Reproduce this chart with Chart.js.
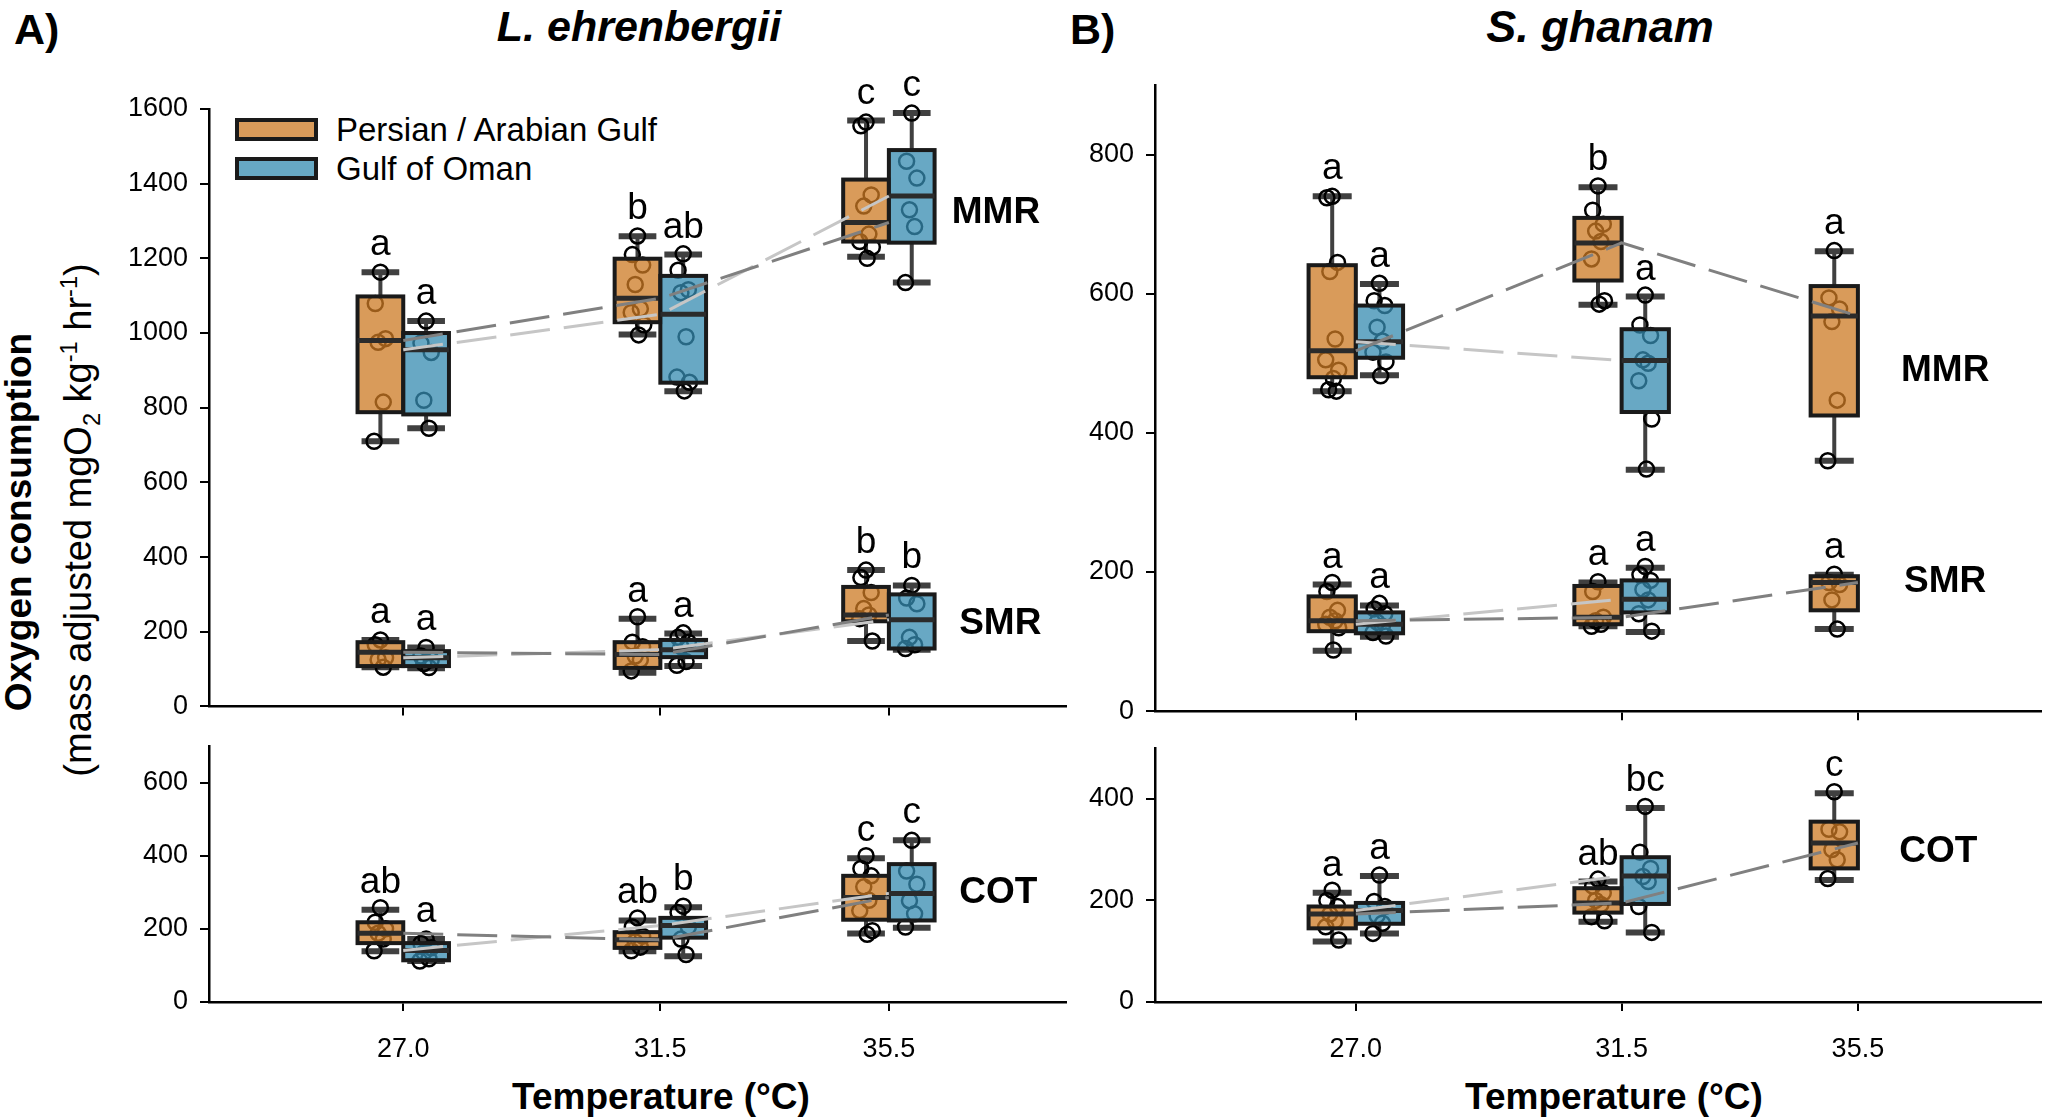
<!DOCTYPE html>
<html>
<head>
<meta charset="utf-8">
<script src="https://cdn.jsdelivr.net/npm/chart.js@4.4.1/dist/chart.umd.min.js"></script>
<style>
  body { margin: 0; background: #fff; width: 2051px; height: 1119px; position: relative; overflow: hidden;
         font-family: "Liberation Sans", Arial, sans-serif; color: #000; }
  .panel { position: absolute; }
  .txt { position: absolute; white-space: nowrap; line-height: 1; }
  .c { transform: translate(-50%, -50%); }
  .rot { transform: translate(-50%, -50%) rotate(-90deg); }
  .sw { position: absolute; width: 83px; height: 23px; border: 4px solid #1a1a1a; box-sizing: border-box; }
  sub, sup { font-size: 0.62em; line-height: 0; }
</style>
</head>
<body>

<div class="txt" style="left:14px;top:8px;font-weight:bold;font-size:43px;">A)</div>
<div class="txt" style="left:1070px;top:8px;font-weight:bold;font-size:43px;">B)</div>
<div class="txt c" style="left:639px;top:26px;font-weight:bold;font-style:italic;font-size:43px;">L. ehrenbergii</div>
<div class="txt c" style="left:1600px;top:26px;font-weight:bold;font-style:italic;font-size:45px;">S. ghanam</div>

<div class="sw" style="left:235px;top:118px;background:#d99b5a;"></div>
<div class="txt" style="left:336px;top:113px;font-size:33px;">Persian / Arabian Gulf</div>
<div class="sw" style="left:235px;top:157px;background:#67a9c4;"></div>
<div class="txt" style="left:336px;top:152px;font-size:33px;">Gulf of Oman</div>

<div class="txt rot" style="left:18px;top:522px;font-weight:bold;font-size:37px;">Oxygen consumption</div>
<div class="txt rot" style="left:78px;top:520px;font-size:38px;">(mass adjusted mgO<sub>2</sub> kg<sup>-1</sup> hr<sup>-1</sup>)</div>

<div class="txt c" style="left:661px;top:1096px;font-weight:bold;font-size:37px;">Temperature (°C)</div>
<div class="txt c" style="left:1614px;top:1096px;font-weight:bold;font-size:37px;">Temperature (°C)</div>

<div class="panel" id="pAtop"><canvas id="cAtop"></canvas></div>
<div class="panel" id="pAbot"><canvas id="cAbot"></canvas></div>
<div class="panel" id="pBtop"><canvas id="cBtop"></canvas></div>
<div class="panel" id="pBbot"><canvas id="cBbot"></canvas></div>

<script>
// Data
const TEMPS = [27.0, 31.5, 35.5];
const X_MIN = 23.6, X_MAX = 38.6;

const A_TOP_TICKS = [0, 200, 400, 600, 800, 1000, 1200, 1400, 1600];
const A_BOT_TICKS = [0, 200, 400, 600];
const B_TOP_TICKS = [0, 200, 400, 600, 800];
const B_BOT_TICKS = [0, 200, 400];

// box stats per temperature: [lower whisker, Q1, median, Q3, upper whisker]
// PG = Persian / Arabian Gulf, GO = Gulf of Oman

// L. ehrenbergii - MMR
const A_MMR_PG = [[710, 788, 980, 1098, 1163], [996, 1029, 1093, 1199, 1259], [1204, 1245, 1296, 1411, 1569]];
const A_MMR_PG_PTS = [[1163, 1079, 985, 975, 815, 710], [1260, 1210, 1182, 1130, 1065, 1055, 1022, 995], [1565, 1555, 1370, 1340, 1265, 1245, 1230, 1200]];
const A_MMR_PG_LET = ['a', 'b', 'c'];
const A_MMR_GO = [[745, 782, 955, 1000, 1032], [844, 867, 1050, 1153, 1210], [1135, 1242, 1367, 1490, 1589]];
const A_MMR_GO_PTS = [[1032, 973, 948, 820, 745], [1212, 1168, 1116, 1108, 990, 882, 868, 845], [1589, 1460, 1415, 1330, 1285, 1135]];
const A_MMR_GO_LET = ['a', 'ab', 'c'];

// L. ehrenbergii - SMR
const A_SMR_PG = [[105, 108, 145, 172, 178], [90, 103, 139, 172, 235], [175, 228, 245, 320, 365]];
const A_SMR_PG_PTS = [[178, 165, 130, 125, 105], [240, 172, 160, 135, 125, 95], [365, 345, 305, 262, 245, 235, 175]];
const A_SMR_PG_LET = ['a', 'a', 'b'];
const A_SMR_GO = [[102, 108, 130, 148, 158], [108, 132, 152, 178, 195], [152, 155, 232, 300, 324]];
const A_SMR_GO_PTS = [[158, 135, 125, 115, 104], [197, 185, 172, 160, 120, 110], [324, 290, 275, 185, 165, 155]];
const A_SMR_GO_LET = ['a', 'a', 'b'];

// L. ehrenbergii - COT
const A_COT_PG = [[139, 161, 188, 218, 252], [139, 148, 170, 191, 223], [187, 225, 286, 345, 393]];
const A_COT_PG_PTS = [[258, 218, 200, 188, 172, 140], [230, 205, 180, 165, 150, 140], [400, 365, 345, 315, 278, 250, 195, 185]];
const A_COT_PG_LET = ['ab', 'ab', 'c'];
const A_COT_GO = [[112, 114, 141, 161, 172], [125, 176, 209, 230, 259], [203, 223, 297, 377, 442]];
const A_COT_GO_PTS = [[172, 160, 148, 135, 118, 112], [262, 245, 205, 172, 130], [442, 358, 322, 277, 241, 205]];
const A_COT_GO_LET = ['a', 'b', 'c'];

// S. ghanam - MMR
const B_MMR_PG = [[460, 480, 518, 641, 740], [584, 619, 673, 709, 753], [360, 425, 568, 611, 661]];
const B_MMR_PG_PTS = [[740, 738, 645, 632, 535, 505, 490, 478, 462, 460], [755, 720, 700, 690, 675, 650, 590, 585], [662, 594, 578, 560, 447, 360]];
const B_MMR_PG_LET = ['a', 'b', 'a'];
const B_MMR_GO = [[483, 508, 531, 583, 614], [347, 430, 504, 549, 596]];
const B_MMR_GO_PTS = [[615, 590, 583, 552, 532, 516, 502, 482], [598, 555, 540, 505, 500, 475, 420, 348]];
const B_MMR_GO_LET = ['a', 'a'];

// S. ghanam - SMR
const B_SMR_PG = [[87, 115, 130, 165, 182], [122, 125, 135, 180, 185], [118, 145, 185, 194, 196]];
const B_SMR_PG_PTS = [[185, 172, 145, 135, 130, 125, 120, 88], [186, 172, 135, 130, 125, 122], [197, 185, 182, 160, 118]];
const B_SMR_PG_LET = ['a', 'a', 'a'];
const B_SMR_GO = [[107, 112, 125, 142, 152], [114, 142, 161, 188, 206]];
const B_SMR_GO_PTS = [[155, 147, 140, 128, 122, 113, 108], [208, 196, 188, 175, 160, 140, 115]];
const B_SMR_GO_LET = ['a', 'a'];

// S. ghanam - COT
const B_COT_PG = [[119, 145, 173, 188, 215], [158, 176, 195, 224, 237], [240, 263, 313, 355, 411]];
const B_COT_PG_PTS = [[220, 200, 188, 173, 160, 148, 122], [242, 228, 215, 200, 192, 168, 160], [414, 340, 335, 300, 280, 243]];
const B_COT_PG_LET = ['a', 'ab', 'c'];
const B_COT_GO = [[135, 154, 180, 195, 248], [137, 193, 248, 285, 382]];
const B_COT_GO_PTS = [[250, 198, 188, 170, 155, 135], [385, 295, 263, 247, 237, 188, 137]];
const B_COT_GO_LET = ['a', 'bc'];

// Styles
const FONT = '"Liberation Sans", Arial, sans-serif';
const PG_FILL = 'rgba(204,122,35,0.75)';
const GO_FILL = 'rgba(54,139,176,0.75)';
const PG_LINE = '#808080';
const GO_LINE = '#c6c6c6';
const WHISKER = '#404040';
const BOX_HALF = 0.4, CAP_HALF = 0.33;
const JITTER = [0, -0.09, 0.09, -0.04, 0.05, -0.11, 0.11, 0.02, -0.06, 0.07];

Chart.defaults.font.family = FONT;
Chart.defaults.color = '#000';

function makeGroup(name, nameAt, pg, pgPts, pgLet, go, goPts, goLet) {
    return { name, nameAt, pg, pgPts, pgLet, go, goPts, goLet };
}

function boxesOf(g) {
    const out = [];
    TEMPS.forEach((t, i) => {
        if (g.pg[i]) out.push({ x: t - BOX_HALF, s: g.pg[i], letter: g.pgLet[i], fill: PG_FILL });
        if (g.go[i]) out.push({ x: t + BOX_HALF, s: g.go[i], letter: g.goLet[i], fill: GO_FILL });
    });
    return out;
}

function medianLine(stats, color) {
    return {
        showLine: true,
        data: TEMPS.map((t, i) => stats[i] ? { x: t, y: stats[i][2] } : null).filter(Boolean),
        borderColor: color, borderWidth: 3, borderDash: [40, 14],
        pointRadius: 0, clip: false
    };
}

function pointSet(pts, offset) {
    const data = [];
    pts.forEach((list, i) => {
        list.forEach((v, j) => data.push({ x: TEMPS[i] + offset + JITTER[j % JITTER.length], y: v }));
    });
    return {
        showLine: false, data,
        pointStyle: 'circle', pointRadius: 7.5, pointBorderWidth: 2.5,
        pointBorderColor: '#000', pointBackgroundColor: 'rgba(0,0,0,0)', clip: false
    };
}

function boxPlugin(groups) {
    const boxes = groups.flatMap(boxesOf);
    let boxesDone = false;
    return {
        id: 'boxes',
        beforeDatasetsDraw(chart) {
            boxesDone = false;
            const { ctx, scales: { x, y } } = chart;
            ctx.save();
            ctx.strokeStyle = WHISKER;
            boxes.forEach(b => {
                const cx = x.getPixelForValue(b.x);
                const [lo, q1, , q3, hi] = b.s.map(v => y.getPixelForValue(v));
                const l = x.getPixelForValue(b.x - CAP_HALF), r = x.getPixelForValue(b.x + CAP_HALF);
                ctx.lineWidth = 4;
                ctx.beginPath();
                ctx.moveTo(cx, hi); ctx.lineTo(cx, q3);
                ctx.moveTo(cx, q1); ctx.lineTo(cx, lo);
                ctx.stroke();
                ctx.lineWidth = 6;
                ctx.beginPath();
                ctx.moveTo(l, hi); ctx.lineTo(r, hi);
                ctx.moveTo(l, lo); ctx.lineTo(r, lo);
                ctx.stroke();
            });
            ctx.restore();
        },
        beforeDatasetDraw(chart, args) {
            if (boxesDone || !chart.data.datasets[args.index].showLine) return;
            boxesDone = true;
            const { ctx, scales: { x, y } } = chart;
            ctx.save();
            boxes.forEach(b => {
                const l = x.getPixelForValue(b.x - BOX_HALF), r = x.getPixelForValue(b.x + BOX_HALF);
                const q1 = y.getPixelForValue(b.s[1]), med = y.getPixelForValue(b.s[2]), q3 = y.getPixelForValue(b.s[3]);
                ctx.fillStyle = b.fill;
                ctx.fillRect(l, q3, r - l, q1 - q3);
                ctx.strokeStyle = '#1a1a1a';
                ctx.lineWidth = 4;
                ctx.strokeRect(l, q3, r - l, q1 - q3);
                ctx.strokeStyle = '#2b2b2b';
                ctx.lineWidth = 5;
                ctx.beginPath();
                ctx.moveTo(l, med); ctx.lineTo(r, med);
                ctx.stroke();
            });
            ctx.restore();
        },
        afterDatasetsDraw(chart) {
            const { ctx, scales: { x, y } } = chart;
            ctx.save();
            ctx.fillStyle = '#000';
            ctx.textAlign = 'center';
            ctx.textBaseline = 'alphabetic';
            ctx.font = '37px ' + FONT;
            boxes.forEach(b => {
                ctx.fillText(b.letter, x.getPixelForValue(b.x), y.getPixelForValue(b.s[4]) - 17);
            });
            ctx.font = 'bold 37px ' + FONT;
            ctx.textAlign = 'left';
            ctx.textBaseline = 'middle';
            groups.forEach(g => {
                ctx.fillText(g.name, x.getPixelForValue(g.nameAt[0]), y.getPixelForValue(g.nameAt[1]));
            });
            ctx.restore();
        }
    };
}

function makePanel(divId, canvasId, rect, yMax, yTicks, showXLabels, groups) {
    const XH = showXLabels ? 70 : 20;
    const div = document.getElementById(divId);
    div.style.left = (rect.left - 140) + 'px';
    div.style.top = (rect.top - 80) + 'px';
    div.style.width = (rect.right - rect.left + 180) + 'px';
    div.style.height = (rect.bottom - rect.top + 80 + XH) + 'px';

    const datasets = [];
    groups.forEach(g => {
        datasets.push(medianLine(g.pg, PG_LINE));
        datasets.push(medianLine(g.go, GO_LINE));
    });
    groups.forEach(g => {
        datasets.push(pointSet(g.pgPts, -BOX_HALF));
        datasets.push(pointSet(g.goPts, BOX_HALF));
    });

    const tickFont = { size: 27, family: FONT };
    const chart = new Chart(document.getElementById(canvasId), {
        type: 'scatter',
        data: { datasets },
        options: {
            responsive: true,
            maintainAspectRatio: false,
            animation: false,
            events: [],
            layout: { padding: { left: 20, top: 80, right: 40, bottom: 0 } },
            plugins: { legend: { display: false }, tooltip: { enabled: false } },
            scales: {
                x: {
                    type: 'linear', min: X_MIN, max: X_MAX,
                    afterBuildTicks: s => { s.ticks = TEMPS.map(v => ({ value: v })); },
                    afterFit: s => { s.height = XH; },
                    ticks: {
                        callback: v => showXLabels ? Number(v).toFixed(1) : '',
                        font: tickFont, color: '#000', padding: 22, maxRotation: 0, autoSkip: false
                    },
                    grid: { drawOnChartArea: false, drawTicks: true, tickLength: 9, color: '#000', lineWidth: 2 },
                    border: { display: true, color: '#000', width: 2.5 }
                },
                y: {
                    type: 'linear', min: 0, max: yMax,
                    afterBuildTicks: s => { s.ticks = yTicks.map(v => ({ value: v })); },
                    afterFit: s => { s.width = 120; },
                    ticks: { callback: v => String(v), font: tickFont, color: '#000', padding: 12 },
                    grid: { drawOnChartArea: false, drawTicks: true, tickLength: 9, color: '#000', lineWidth: 2 },
                    border: { display: true, color: '#000', width: 2.5 }
                }
            }
        },
        plugins: [boxPlugin(groups)]
    });

    // pin the plot area onto the reference position
    const ca = chart.chartArea;
    const w = parseFloat(div.style.width), h = parseFloat(div.style.height);
    div.style.left = (rect.left - ca.left) + 'px';
    div.style.top = (rect.top - ca.top) + 'px';
    div.style.width = (w + (rect.right - rect.left) - (ca.right - ca.left)) + 'px';
    div.style.height = (h + (rect.bottom - rect.top) - (ca.bottom - ca.top)) + 'px';
    chart.resize();
    return chart;
}

makePanel('pAtop', 'cAtop', { left: 209, right: 1066, top: 108.6, bottom: 706 }, 1600, A_TOP_TICKS, false, [
    makeGroup('MMR', [36.6, 1323], A_MMR_PG, A_MMR_PG_PTS, A_MMR_PG_LET, A_MMR_GO, A_MMR_GO_PTS, A_MMR_GO_LET),
    makeGroup('SMR', [36.73, 220], A_SMR_PG, A_SMR_PG_PTS, A_SMR_PG_LET, A_SMR_GO, A_SMR_GO_PTS, A_SMR_GO_LET)
]);
makePanel('pAbot', 'cAbot', { left: 209, right: 1066, top: 746, bottom: 1002 }, 700, A_BOT_TICKS, true, [
    makeGroup('COT', [36.73, 299], A_COT_PG, A_COT_PG_PTS, A_COT_PG_LET, A_COT_GO, A_COT_GO_PTS, A_COT_GO_LET)
]);
makePanel('pBtop', 'cBtop', { left: 1155, right: 2041, top: 84.8, bottom: 711 }, 900, B_TOP_TICKS, false, [
    makeGroup('MMR', [36.23, 489], B_MMR_PG, B_MMR_PG_PTS, B_MMR_PG_LET, B_MMR_GO, B_MMR_GO_PTS, B_MMR_GO_LET),
    makeGroup('SMR', [36.28, 186], B_SMR_PG, B_SMR_PG_PTS, B_SMR_PG_LET, B_SMR_GO, B_SMR_GO_PTS, B_SMR_GO_LET)
]);
makePanel('pBbot', 'cBbot', { left: 1155, right: 2041, top: 748, bottom: 1002 }, 500, B_BOT_TICKS, true, [
    makeGroup('COT', [36.2, 296], B_COT_PG, B_COT_PG_PTS, B_COT_PG_LET, B_COT_GO, B_COT_GO_PTS, B_COT_GO_LET)
]);
</script>
</body>
</html>
